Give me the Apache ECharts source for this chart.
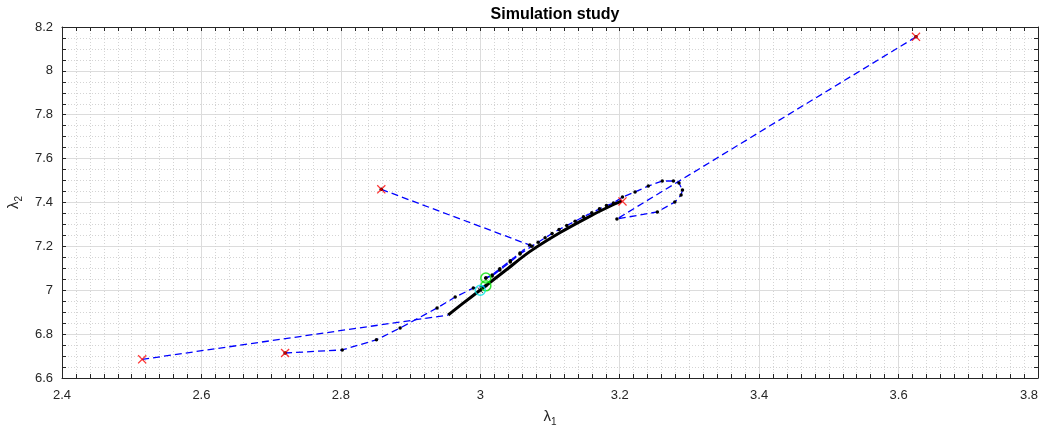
<!DOCTYPE html>
<html>
<head>
<meta charset="utf-8">
<script src="https://cdn.jsdelivr.net/npm/echarts@6/dist/echarts.min.js"></script>
<style>html,body{margin:0;padding:0;background:#fff}#c{width:1048px;height:425px}</style>
</head>
<body>
<div id="c"></div>
<script>
// ---- data ----
const titleText = 'Simulation study';
const xTicks = [2.4, 3.8, 0.2];   // min, max, step
const yTicks = [6.6, 8.2, 0.2];

const startPoints = [[2.515, 6.685], [2.72, 6.714], [2.858, 7.46], [3.204, 7.405], [3.625, 8.155]];
const trueValue = [[3.0, 7.0]];
const finalEstimates = [[3.008, 7.056], [3.008, 7.020]];

// black solid ridge path (dense iterates)
const ridgePath = [[2.954, 6.887], [2.975, 6.94], [3.0, 7.001], [3.036, 7.09], [3.071, 7.176],
  [3.114, 7.262], [3.157, 7.337], [3.186, 7.383], [3.203, 7.407]];

// blue dashed trajectories
const path1 = [[2.515, 6.685], [2.954, 6.887]];
const path2 = [[2.72, 6.714], [2.802, 6.728], [2.851, 6.774], [2.885, 6.828], [2.938, 6.919],
  [2.964, 6.969], [2.990, 7.010], [3.008, 7.020]];
const path3 = [[2.858, 7.46], [3.071, 7.206], [3.057, 7.17], [3.043, 7.135], [3.028, 7.098],
  [3.017, 7.07], [3.008, 7.056]];
const path4 = [[3.625, 8.155], [3.196, 7.325], [3.254, 7.357], [3.279, 7.402], [3.288, 7.434],
  [3.290, 7.457], [3.285, 7.489], [3.277, 7.498], [3.261, 7.498], [3.241, 7.475], [3.222, 7.448],
  [3.204, 7.425], [3.191, 7.398], [3.181, 7.386], [3.171, 7.371], [3.160, 7.353], [3.148, 7.335],
  [3.136, 7.315], [3.124, 7.295], [3.113, 7.277], [3.103, 7.259], [3.093, 7.239], [3.083, 7.219],
  [3.074, 7.201], [3.057, 7.165], [3.043, 7.129], [3.028, 7.092], [3.017, 7.065], [3.008, 7.056]];

// ---- chart ----
const FONT = '"Liberation Sans", Arial, Helvetica, sans-serif';
const AX = '#262626';
const xPath = 'path://M0,1L1,0L5,4L9,0L10,1L6,5L10,9L9,10L5,6L1,10L0,9L4,5Z';

function axisCommon(min, max, step, minorN, showLabel, pos) {
  return {
    type: 'value', min: min, max: max, interval: step, position: pos,
    axisLine: { show: true, onZero: false, lineStyle: { color: AX, width: 1 } },
    axisTick: { show: true, inside: true, length: 4, lineStyle: { color: AX, width: 1 } },
    minorTick: { show: true, splitNumber: minorN, length: 4, lineStyle: { color: AX, width: 1 } },
    axisLabel: { show: showLabel, color: AX, fontSize: 13, fontFamily: FONT },
    splitLine: { show: showLabel, lineStyle: { color: '#dcdcdc', width: 1 } },
    minorSplitLine: { show: showLabel, lineStyle: { color: '#d4d4d4', width: 1, type: [1, 2] } }
  };
}

const subRich = {
  l: { fontSize: 15, fontFamily: FONT, color: AX, lineHeight: 18 },
  s: { fontSize: 10, fontFamily: FONT, color: AX, lineHeight: 18, padding: [10, 0, 0, 0] }
};

const x0 = axisCommon(xTicks[0], xTicks[1], xTicks[2], 10, true, 'bottom');
x0.axisLabel.margin = 11;
x0.axisLabel.alignMaxLabel = 'right';
x0.name = '{l|λ}{s|1}';
x0.nameLocation = 'middle';
x0.nameGap = 27;
x0.nameTextStyle = { rich: subRich };
const x1 = axisCommon(xTicks[0], xTicks[1], xTicks[2], 10, false, 'top');

const y0 = axisCommon(yTicks[0], yTicks[1], yTicks[2], 4, true, 'left');
y0.axisLabel.margin = 9;
y0.name = '{l|λ}{s|2}';
y0.nameLocation = 'middle';
y0.nameGap = 38;
y0.nameTextStyle = { rich: subRich };
const y1 = axisCommon(yTicks[0], yTicks[1], yTicks[2], 4, false, 'right');

function traj(data, dots) {
  return {
    type: 'line', data: data, xAxisIndex: 0, yAxisIndex: 0, z: 3,
    showSymbol: dots, symbol: 'circle', symbolSize: 3.5,
    itemStyle: { color: '#000' },
    lineStyle: { color: '#0000ff', width: 1.3, type: [7, 4] },
    silent: true, animation: false
  };
}

const chart = echarts.init(document.getElementById('c'), null, { renderer: 'canvas' });
chart.setOption({
  animation: false,
  backgroundColor: '#fff',
  title: {
    text: titleText, left: 550, top: 2, textAlign: 'center',
    textStyle: { fontSize: 16, fontWeight: 'bold', color: '#000', fontFamily: FONT }
  },
  grid: { left: 62, right: 10, top: 27, bottom: 47, containLabel: false, outerBoundsMode: 'none' },
  xAxis: [x0, x1],
  yAxis: [y0, y1],
  series: [
    { type: 'line', data: ridgePath, showSymbol: false, z: 2, animation: false, smooth: 0.3,
      lineStyle: { color: '#000', width: 3 } },
    traj(path1, false),
    traj(path2, true),
    traj(path3, true),
    traj(path4, true),
    { type: 'scatter', data: startPoints, symbol: xPath, symbolSize: 9, z: 5,
      itemStyle: { color: '#ff0000' } },
    { type: 'scatter', data: finalEstimates, symbol: 'circle', symbolSize: 10, z: 6,
      itemStyle: { color: 'rgba(0,0,0,0)', borderColor: '#00e000', borderWidth: 1.5 } },
    { type: 'scatter', data: trueValue, symbol: 'circle', symbolSize: 10, z: 6,
      itemStyle: { color: 'rgba(0,0,0,0)', borderColor: '#00e5e5', borderWidth: 1.5 } },
    { type: 'scatter', data: trueValue, symbol: xPath, symbolSize: 6, z: 7,
      itemStyle: { color: '#000' } }
  ]
});
</script>
</body>
</html>
